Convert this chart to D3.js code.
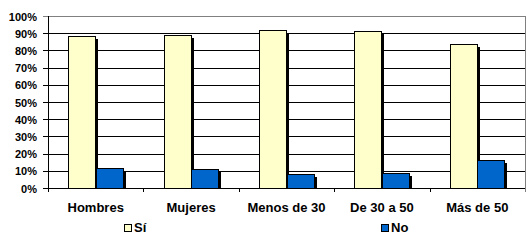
<!DOCTYPE html>
<meta charset="utf-8">
<style>
body { margin: 0; background: #fff; }
text { font-family: "Liberation Sans", Arial, sans-serif; font-weight: bold; fill: #000; }
</style>
<body>
<script src="https://cdn.jsdelivr.net/npm/d3@7"></script>
<script>

var categories = ["Hombres", "Mujeres", "Menos de 30", "De 30 a 50", "Más de 50"];
var series = ["Sí", "No"];
var si = [0.885, 0.89, 0.92, 0.913, 0.84];
var no = [0.115, 0.11, 0.08, 0.087, 0.16];
var colors = ["#ffffcc", "#0066cc"];
var yTicks = [0, 0.1, 0.2, 0.3, 0.4, 0.5, 0.6, 0.7, 0.8, 0.9, 1];

var width = 530, height = 242;
var plotLeft = 48, plotRight = 525, plotTop = 16, plotBottom = 188;

var svg = d3.select("body").append("svg")
    .attr("width", width)
    .attr("height", height);

var x = d3.scaleBand().domain(categories).range([plotLeft, plotRight]).padding(0);
var x1 = d3.scaleBand().domain(series).range([0, x.bandwidth()])
    .paddingInner(0).paddingOuter(0.735);
var y = d3.scaleLinear().domain([0, 1]).range([plotBottom, plotTop]);

var rows = categories.map(function(c, i) {
  return [{cat: c, s: "Sí", v: si[i], k: 0}, {cat: c, s: "No", v: no[i], k: 1}];
});
var bars = d3.merge(rows);

// grid lines
svg.append("g").selectAll("line")
    .data(yTicks.filter(function(t) { return t > 0; }))
  .enter().append("line")
    .attr("x1", plotLeft - 5).attr("x2", plotRight)
    .attr("y1", function(d) { return Math.round(y(d)) + 0.5; })
    .attr("y2", function(d) { return Math.round(y(d)) + 0.5; })
    .attr("stroke", function(d) { return d === 1 ? "#808080" : "#000"; });

// right border
svg.append("line")
    .attr("x1", plotRight + 0.5).attr("x2", plotRight + 0.5)
    .attr("y1", plotTop).attr("y2", plotBottom + 4)
    .attr("stroke", "#808080");

// shadows
svg.append("g").selectAll("rect")
    .data(bars)
  .enter().append("rect")
    .attr("x", function(d) { return Math.round(x(d.cat) + x1(d.s)) + 3; })
    .attr("y", function(d) { return Math.round(y(d.v)) + 3; })
    .attr("width", Math.round(x1.bandwidth()))
    .attr("height", function(d) { return plotBottom - Math.round(y(d.v)) - 3; })
    .attr("fill", "#000");

// bars
svg.append("g").selectAll("rect")
    .data(bars)
  .enter().append("rect")
    .attr("x", function(d) { return Math.round(x(d.cat) + x1(d.s)) + 0.5; })
    .attr("y", function(d) { return Math.round(y(d.v)) + 0.5; })
    .attr("width", Math.round(x1.bandwidth()))
    .attr("height", function(d) { return plotBottom - Math.round(y(d.v)); })
    .attr("fill", function(d) { return colors[d.k]; })
    .attr("stroke", "#000");

// axes
svg.append("line")
    .attr("x1", plotLeft + 0.5).attr("x2", plotLeft + 0.5)
    .attr("y1", plotTop).attr("y2", plotBottom + 4)
    .attr("stroke", "#000");
svg.append("line")
    .attr("x1", plotLeft - 5).attr("x2", plotRight)
    .attr("y1", plotBottom + 0.5).attr("y2", plotBottom + 0.5)
    .attr("stroke", "#000");

svg.append("g").selectAll("line")
    .data(categories.slice(1))
  .enter().append("line")
    .attr("x1", function(d) { return Math.round(x(d)) + 0.5; })
    .attr("x2", function(d) { return Math.round(x(d)) + 0.5; })
    .attr("y1", plotBottom).attr("y2", plotBottom + 4)
    .attr("stroke", "#000");

// y labels
svg.append("g").selectAll("text")
    .data(yTicks)
  .enter().append("text")
    .attr("x", 37)
    .attr("y", function(d) { return y(d) + 4.5; })
    .attr("text-anchor", "end")
    .style("font-size", "11px")
    .text(function(d) { return Math.round(d * 100) + "%"; });

// category labels
svg.append("g").selectAll("text")
    .data(categories)
  .enter().append("text")
    .attr("x", function(d) { return x(d) + x.bandwidth() / 2; })
    .attr("y", 212)
    .attr("text-anchor", "middle")
    .style("font-size", "13px")
    .text(function(d) { return d; });

// legend
var legendX = [124, 381];
var lg = svg.append("g").selectAll("g")
    .data(series)
  .enter().append("g")
    .attr("transform", function(d, i) { return "translate(" + legendX[i] + ",224)"; });
lg.append("rect")
    .attr("x", 0.5).attr("y", 0.5)
    .attr("width", 7).attr("height", 7)
    .attr("fill", function(d, i) { return colors[i]; })
    .attr("stroke", "#000");
lg.append("text")
    .attr("x", 10).attr("y", 8)
    .style("font-size", "13px")
    .text(function(d) { return d; });

</script>
